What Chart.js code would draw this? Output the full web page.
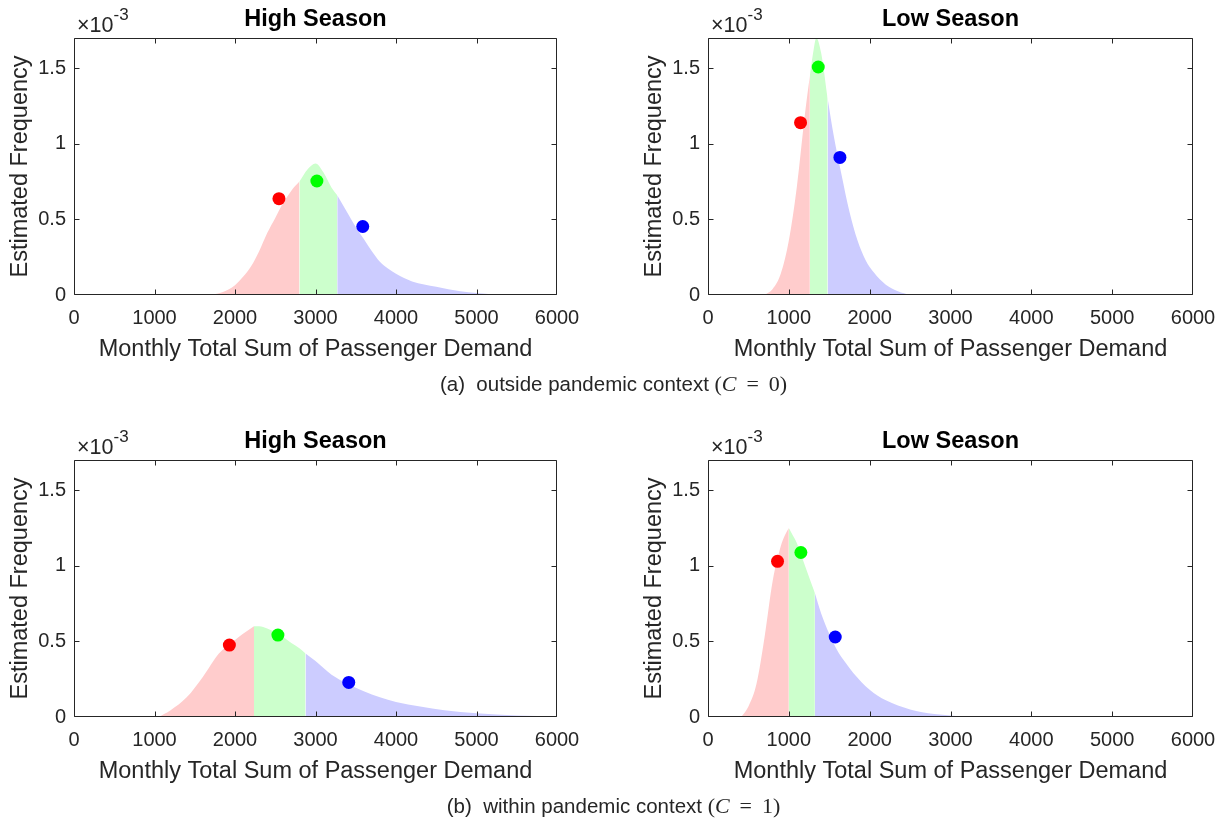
<!DOCTYPE html>
<html>
<head>
<meta charset="utf-8">
<script src="https://cdn.jsdelivr.net/npm/chart.js@4.4.0/dist/chart.umd.min.js"></script>
<style>
  html, body { margin: 0; padding: 0; background: #fff; overflow: hidden; }
  body { width: 1227px; height: 822px; position: relative; font-family: 'Liberation Sans', Arial, Helvetica, sans-serif; }
  canvas { position: absolute; }
  .caption { position: absolute; left: 0; width: 1227px; text-align: center; font-size: 20.5px; line-height: 26px; color: #262626; z-index: 2; }
  .caption .m { font-family: 'Liberation Serif', 'DejaVu Serif', serif; font-size: 22px; }
</style>
</head>
<body>
<canvas id="out-high"></canvas>
<canvas id="out-low"></canvas>
<canvas id="in-high"></canvas>
<canvas id="in-low"></canvas>
<div class="caption" style="top:371px">(a)&nbsp; outside pandemic context <span class="m">(<i>C</i>&thinsp; = &thinsp;0)</span></div>
<div class="caption" style="top:793px">(b)&nbsp; within pandemic context <span class="m">(<i>C</i>&thinsp; = &thinsp;1)</span></div>

<script>
// Frequencies are kept in units of 1e-3 (the axes show a x10^-3 multiplier)
const xTicks = [0, 1000, 2000, 3000, 4000, 5000, 6000];
const yTicks = [0, 0.5, 1, 1.5];

// (a) outside pandemic, high season
const outHighX = [1700, 1850, 2000, 2100, 2200, 2300, 2400, 2500, 2600, 2700, 2800, 2900, 3000, 3100, 3200, 3270, 3400, 3500, 3600, 3700, 3800, 3900, 4000, 4200, 4500, 4800, 5000, 5300];
const outHighY = [0, 0.02, 0.065, 0.12, 0.19, 0.29, 0.41, 0.51, 0.61, 0.69, 0.75, 0.83, 0.87, 0.81, 0.71, 0.66, 0.54, 0.45, 0.37, 0.29, 0.22, 0.175, 0.14, 0.09, 0.055, 0.025, 0.013, 0];
const outHighSplit = [2800, 3270];
const outHighDotX = [2546, 3017, 3587];
const outHighDotY = [0.637, 0.754, 0.453];

// (a) outside pandemic, low season
const outLowX = [700, 800, 900, 1000, 1100, 1200, 1260, 1300, 1340, 1400, 1480, 1550, 1650, 1750, 1850, 1950, 2050, 2200, 2350, 2500];
const outLowY = [0, 0.04, 0.14, 0.36, 0.72, 1.2, 1.45, 1.6, 1.7, 1.6, 1.3, 1.07, 0.8, 0.55, 0.36, 0.23, 0.15, 0.068, 0.025, 0];
const outLowSplit = [1260, 1480];
const outLowDotX = [1145, 1364, 1632];
const outLowDotY = [1.14, 1.508, 0.91];

// (b) within pandemic, high season
const inHighX = [1050, 1200, 1400, 1600, 1800, 2000, 2100, 2236, 2300, 2400, 2500, 2600, 2700, 2800, 2876, 3000, 3200, 3400, 3600, 3800, 4000, 4300, 4600, 5000, 5500, 6000];
const inHighY = [0, 0.045, 0.13, 0.265, 0.42, 0.51, 0.55, 0.6, 0.6, 0.585, 0.56, 0.53, 0.49, 0.455, 0.42, 0.37, 0.28, 0.22, 0.17, 0.13, 0.1, 0.07, 0.045, 0.025, 0.01, 0.004];
const inHighSplit = [2236, 2876];
const inHighDotX = [1930, 2533, 3413];
const inHighDotY = [0.476, 0.542, 0.229];

// (b) within pandemic, low season
const inLowX = [410, 500, 600, 700, 800, 900, 950, 1000, 1050, 1100, 1200, 1322, 1400, 1500, 1600, 1700, 1800, 2000, 2200, 2500, 2800, 3000, 3200];
const inLowY = [0, 0.07, 0.22, 0.53, 0.9, 1.13, 1.2, 1.25, 1.2, 1.15, 1.0, 0.82, 0.685, 0.55, 0.44, 0.36, 0.29, 0.18, 0.11, 0.05, 0.02, 0.01, 0];
const inLowSplit = [1000, 1322];
const inLowDotX = [860, 1149, 1574];
const inLowDotY = [1.03, 1.088, 0.529];

const fillColors = ['rgb(255,204,204)', 'rgb(204,255,204)', 'rgb(204,204,255)'];
const dotColors = ['#ff0000', '#00ff00', '#0000ff'];

const FONT = "'Liberation Sans', Arial, Helvetica, sans-serif";
const AXIS_COLOR = '#262626';
Chart.defaults.font.family = FONT;

// Box, inward ticks, subplot title and x10^-3 multiplier, MATLAB style
const matlabAxes = {
    id: 'matlabAxes',
    afterDatasetsDraw(chart, args, opts) {
        const { ctx, chartArea: a } = chart;
        const xs = chart.scales.x, ys = chart.scales.y;
        const L = Math.round(a.left) + 0.5, R = Math.round(a.right) - 0.5;
        const T = Math.round(a.top) + 0.5, B = Math.round(a.bottom) - 0.5;
        const clamp = (v, lo, hi) => Math.min(hi, Math.max(lo, v));
        ctx.save();
        ctx.strokeStyle = AXIS_COLOR;
        ctx.lineWidth = 1;
        ctx.beginPath();
        ctx.rect(L, T, R - L, B - T);
        xs.ticks.forEach(t => {
            const px = clamp(Math.round(xs.getPixelForValue(t.value)) + 0.5, L, R);
            ctx.moveTo(px, B); ctx.lineTo(px, B - 5);
            ctx.moveTo(px, T); ctx.lineTo(px, T + 5);
        });
        ys.ticks.forEach(t => {
            const py = clamp(Math.round(ys.getPixelForValue(t.value)) + 0.5, T, B);
            ctx.moveTo(L, py); ctx.lineTo(L + 5, py);
            ctx.moveTo(R, py); ctx.lineTo(R - 5, py);
        });
        ctx.stroke();

        // title
        ctx.fillStyle = '#000';
        ctx.font = 'bold 23.5px ' + FONT;
        ctx.textAlign = 'center';
        ctx.textBaseline = 'middle';
        ctx.fillText(opts.title, (a.left + a.right) / 2, a.top - 18);

        // exponent
        ctx.fillStyle = AXIS_COLOR;
        ctx.textAlign = 'left';
        ctx.textBaseline = 'alphabetic';
        ctx.font = '21.5px ' + FONT;
        const base = '\u00d710';
        ctx.fillText(base, a.left + 3, a.top - 6);
        const w = ctx.measureText(base).width;
        ctx.font = '17px ' + FONT;
        ctx.fillText('-3', a.left + 3 + w, a.top - 18);
        ctx.restore();
    }
};

function makeChart(canvasId, f, curveX, curveY, split, dotX, dotY, title) {
    const canvas = document.getElementById(canvasId);
    canvas.width = f.width;
    canvas.height = f.height;
    canvas.style.left = f.left + 'px';
    canvas.style.top = f.top + 'px';

    const pts = curveX.map((x, i) => ({ x: x, y: curveY[i] }));
    const ranges = [[-Infinity, split[0]], [split[0], split[1]], [split[1], Infinity]];
    const fills = ranges.map((r, i) => ({
        data: pts.filter(p => p.x >= r[0] && p.x <= r[1]),
        borderWidth: 0,
        pointRadius: 0,
        backgroundColor: fillColors[i],
        fill: 'origin',
        cubicInterpolationMode: 'monotone',
        order: 2
    }));
    const dots = {
        data: dotX.map((x, i) => ({ x: x, y: dotY[i] })),
        showLine: false,
        pointRadius: 6.5,
        pointBorderWidth: 0,
        pointBackgroundColor: dotColors,
        order: 0
    };

    return new Chart(canvas.getContext('2d'), {
        type: 'line',
        data: { datasets: [dots].concat(fills) },
        options: {
            responsive: false,
            animation: false,
            devicePixelRatio: 1,
            layout: {
                padding: { left: 0, top: f.plotT - f.top, right: f.left + f.width - f.plotR, bottom: 0 }
            },
            plugins: {
                legend: { display: false },
                tooltip: { enabled: false },
                matlabAxes: { title: title }
            },
            scales: {
                x: {
                    type: 'linear',
                    min: 0,
                    max: 6000,
                    afterBuildTicks: s => { s.ticks = xTicks.map(v => ({ value: v })); },
                    afterFit: s => { s.height = f.top + f.height - f.plotB; },
                    grid: { display: false, drawTicks: false },
                    border: { display: false },
                    ticks: { font: { size: 20 }, color: AXIS_COLOR, padding: 11, maxRotation: 0, autoSkip: false, callback: v => String(v) },
                    title: { display: true, text: 'Monthly Total Sum of Passenger Demand', font: { size: 23.5 }, color: AXIS_COLOR, padding: { top: 0, bottom: 16 } }
                },
                y: {
                    type: 'linear',
                    min: 0,
                    max: 1.7,
                    afterBuildTicks: s => { s.ticks = yTicks.map(v => ({ value: v })); },
                    afterFit: s => { s.width = f.plotL - f.left; },
                    grid: { display: false, drawTicks: false },
                    border: { display: false },
                    ticks: { font: { size: 20 }, color: AXIS_COLOR, padding: 8, callback: v => String(v) },
                    title: { display: true, text: 'Estimated Frequency', font: { size: 23.5 }, color: AXIS_COLOR, padding: { top: 6, bottom: 0 } }
                }
            }
        },
        plugins: [matlabAxes]
    });
}

const frames = {
    tl: { left: 0,   top: 0,   width: 600, height: 380, plotL: 74,  plotT: 38,  plotR: 557,  plotB: 295 },
    tr: { left: 634, top: 0,   width: 593, height: 380, plotL: 708, plotT: 38,  plotR: 1193, plotB: 295 },
    bl: { left: 0,   top: 422, width: 600, height: 380, plotL: 74,  plotT: 460, plotR: 557,  plotB: 717 },
    br: { left: 634, top: 422, width: 593, height: 380, plotL: 708, plotT: 460, plotR: 1193, plotB: 717 }
};

makeChart('out-high', frames.tl, outHighX, outHighY, outHighSplit, outHighDotX, outHighDotY, 'High Season');
makeChart('out-low', frames.tr, outLowX, outLowY, outLowSplit, outLowDotX, outLowDotY, 'Low Season');
makeChart('in-high', frames.bl, inHighX, inHighY, inHighSplit, inHighDotX, inHighDotY, 'High Season');
makeChart('in-low', frames.br, inLowX, inLowY, inLowSplit, inLowDotX, inLowDotY, 'Low Season');
</script>
</body>
</html>
